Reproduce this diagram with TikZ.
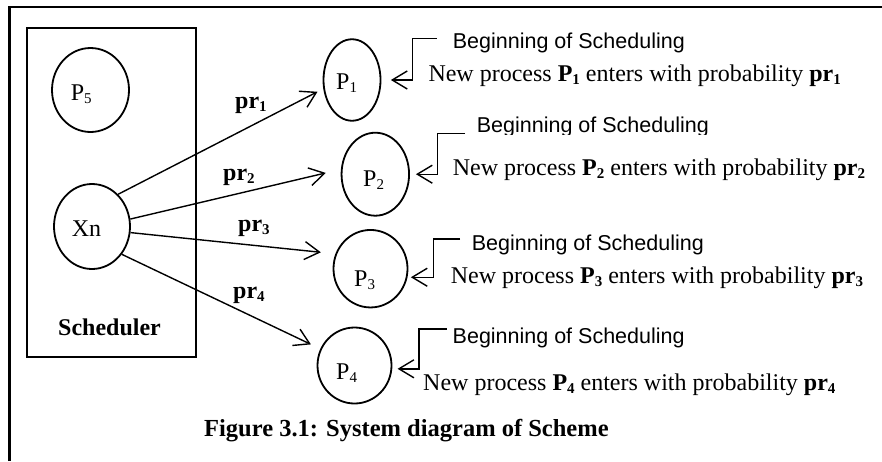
\documentclass[tikz,border=0pt]{standalone}
\usepackage{fontspec}
\setmainfont{Liberation Serif}
\newfontfamily\begfont{Liberation Sans}
\usetikzlibrary{arrows.meta,shapes.geometric}
\newcommand\lsub[1]{\raisebox{-3pt}{\fontsize{15}{15}\selectfont #1}}
\begin{document}
\begin{tikzpicture}[x=1pt,y=-1pt,
  circ/.style={draw, ellipse, line width=1.8pt, inner sep=0pt},
  txt/.style={anchor=base west, inner sep=0pt, font=\fontsize{24}{28}\selectfont},
  btxt/.style={anchor=base west, inner sep=0pt, font=\fontsize{24}{28}\selectfont\bfseries},
  stxt/.style={anchor=base west, inner sep=0pt, font=\begfont\fontsize{21.5}{26}\selectfont},
  arr/.style={line width=1.4pt, -{Straight Barb[length=15pt,width=18pt]}}]
\useasboundingbox (0,0) rectangle (882,461);
\fill[white] (0,0) rectangle (882,461);
% outer frame (only top and left visible)
\draw[line width=2.8pt] (9.7,461) -- (9.7,7) -- (882,7);
% scheduler box
\node[draw, line width=1.3pt, minimum width=169, minimum height=329, inner sep=0pt] (sched) at (111.5,192.5) {};
\node[btxt] (schedt) at (58,335) {Scheduler};
% circles
\node[circ, minimum width=77, minimum height=84] (p5) at (90.5,90) {};
\node[circ, minimum width=76, minimum height=85] (xn) at (92,226.5) {};
\node[circ, minimum width=57, minimum height=81.5] (p1) at (352,80) {};
\node[circ, minimum width=67.5, minimum height=83] (p2) at (375.3,174.2) {};
\node[circ, minimum width=74, minimum height=77.5] (p3) at (370.5,268.7) {};
\node[circ, minimum width=74, minimum height=76] (p4) at (354.5,365.5) {};
% circle labels
\node[txt] (p5t) at (70.7,100) {P\lsub{5}};
\node[txt] (xnt) at (71.7,236.7) {Xn};
\node[txt] (p1t) at (336,89.3) {P\lsub{1}};
\node[txt] (p2t) at (363,186) {P\lsub{2}};
\node[txt] (p3t) at (354,286) {P\lsub{3}};
\node[txt] (p4t) at (336,379.3) {P\lsub{4}};
% arrows from Xn
\draw[arr, shorten >=6.5pt] (xn.51) -- (p1.197);
\draw[arr, shorten >=15.5pt] (xn.11.6) -- (p2.172);
\draw[arr, shorten >=14.6pt] (xn.-9.2) -- (p3.157);
\draw[arr, shorten >=10.3pt] (xn.-43.3) -- (p4.154);
% probability labels
\node[btxt] (pr1) at (235,108.3) {pr\lsub{1}};
\node[btxt] (pr2) at (223,180) {pr\lsub{2}};
\node[btxt] (pr3) at (238,231.7) {pr\lsub{3}};
\node[btxt] (pr4) at (233,298) {pr\lsub{4}};
% bracket arrows
\coordinate (b1) at (436.7,38.3);
\coordinate (b2) at (465,133.3);
\coordinate (b3) at (460,239);
\coordinate (b4) at (446.7,329);
\draw[arr, shorten >=9.5pt] (b1) -- ++(-24,0) |- (p1.east);
\draw[arr, shorten >=6pt] (b2) -- ++(-27.3,0) |- (p2.east);
\draw[arr, shorten >=3.4pt] (b3) -- ++(-26.7,0) |- (p3.-13);
\draw[arr, shorten >=5.3pt] (b4) -- ++(-27.7,0) |- (p4.-5);
% right texts
\node[stxt] (beg1) at (452.7,48.3) {Beginning of Scheduling};
\node[txt] (new1) at (428.3,81.7) {New process \textbf{P\lsub{1}} enters with probability \textbf{pr\lsub{1}}};
\begin{scope}
\clip (400,100) rectangle (882,134);
\node[stxt] (beg2) at (476.7,132.5) {Beginning of Scheduling};
\end{scope}
\node[txt] (new2) at (452.7,175) {New process \textbf{P\lsub{2}} enters with probability \textbf{pr\lsub{2}}};
\node[stxt] (beg3) at (471.7,250) {Beginning of Scheduling};
\node[txt] (new3) at (450.6,283.3) {New process \textbf{P\lsub{3}} enters with probability \textbf{pr\lsub{3}}};
\node[stxt] (beg4) at (452.5,343) {Beginning of Scheduling};
\node[txt] (new4) at (423,390.7) {New process \textbf{P\lsub{4}} enters with probability \textbf{pr\lsub{4}}};
% caption
\node[btxt, font=\fontsize{24.5}{28}\selectfont\bfseries] (cap) at (204,436.7) {Figure 3.1: System diagram of Scheme};
\end{tikzpicture}
\end{document}
